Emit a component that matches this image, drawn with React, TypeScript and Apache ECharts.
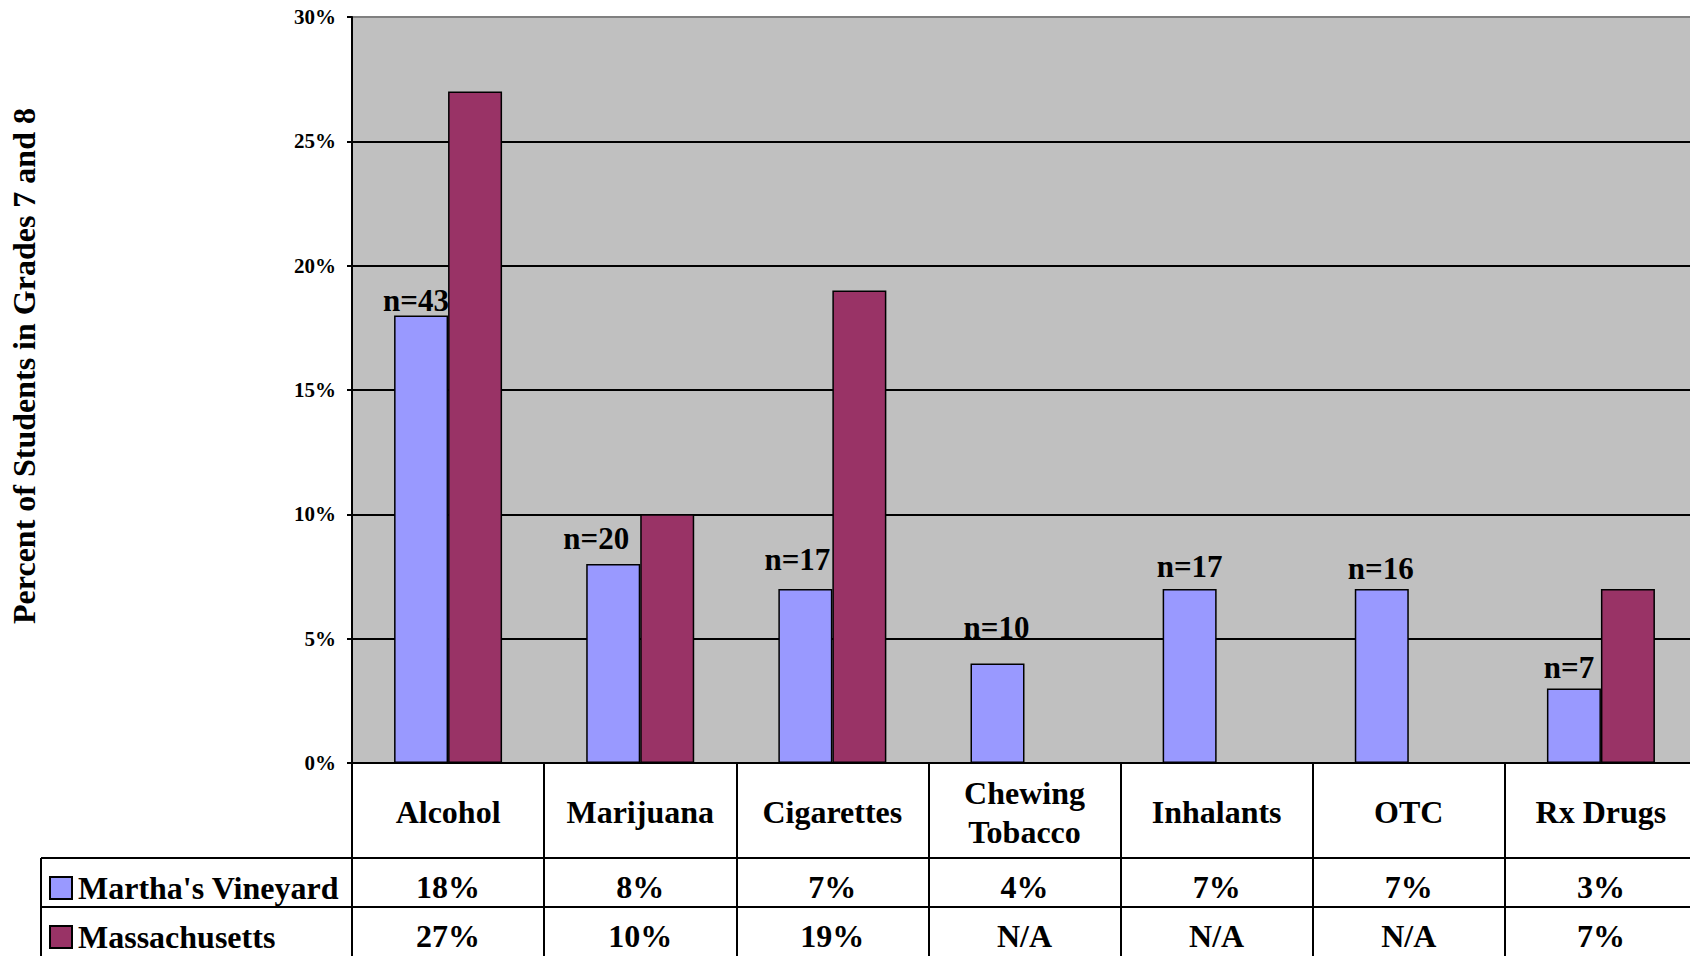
import React, { useEffect, useRef } from 'react';
import * as echarts from 'echarts';

// Substance categories (the x axis / data table header row)
const categories = ['Alcohol', 'Marijuana', 'Cigarettes', 'Chewing\nTobacco', 'Inhalants', 'OTC', 'Rx Drugs'];
// Percent of grade 7–8 students reporting use
const vineyardValues = [18, 8, 7, 4, 7, 7, 3];
const massachusettsValues: (number | null)[] = [27, 10, 19, null, null, null, 7];
// Number of Martha's Vineyard respondents behind each percentage
const sampleSizes = [43, 20, 17, 10, 17, 16, 7];
const seriesNames = ["Martha's Vineyard", 'Massachusetts'];
const yAxisTitle = 'Percent of Students in Grades 7 and 8';

// Hand-placed nudges for the "n=" labels [dx, dy]
const nLabelNudge: [number, number][] = [
  [-5, 1], [-17, -10], [-8, -14], [-1, -21], [0, -7], [-1, -5], [-5, -5],
];

const SERIF = '"Times New Roman", "Liberation Serif", serif';
const VINEYARD_COLOR = '#9999FF';
const MASS_COLOR = '#993366';

const fmtPct = (v: number | null) => (v == null ? 'N/A' : `${v}%`);

export default function App() {
  const ref = useRef<HTMLDivElement>(null);

  useEffect(() => {
    if (!ref.current) return;
    const chart = echarts.init(ref.current, null, { renderer: 'svg' });

    const tableText = {
      fontSize: 32,
      fontWeight: 'bold' as const,
      color: '#000',
      fontFamily: SERIF,
    };

    const legendBase = {
      left: 49,
      orient: 'vertical' as const,
      itemWidth: 22,
      itemHeight: 22,
      padding: 0,
      icon: 'rect',
      selectedMode: false,
      textStyle: { ...tableText, padding: [0, 0, 0, 1] },
    };

    chart.setOption({
      animation: false,
      backgroundColor: '#fff',
      grid: {
        left: 352,
        width: 1345,
        top: 17,
        bottom: 193,
        outerBoundsMode: 'none',
        show: true,
        backgroundColor: '#C0C0C0',
        borderColor: '#808080',
        borderWidth: 2,
      },
      legend: [
        { ...legendBase, data: [seriesNames[0]], top: 872 },
        { ...legendBase, data: [seriesNames[1]], top: 921 },
      ],
      xAxis: [
        {
          type: 'category',
          data: categories,
          position: 'bottom',
          axisLine: { show: true, lineStyle: { color: '#000', width: 2 } },
          axisTick: { show: true, interval: 0, length: 194, lineStyle: { color: '#000', width: 2 } },
          axisLabel: { ...tableText, interval: 0, margin: 49, verticalAlign: 'middle', lineHeight: 39 },
          splitLine: { show: false },
        },
        {
          type: 'category',
          data: categories,
          position: 'bottom',
          axisLine: { show: false },
          axisTick: { show: false },
          axisLabel: {
            ...tableText,
            interval: 0,
            margin: 124,
            verticalAlign: 'middle',
            formatter: (_v: string, i: number) => fmtPct(vineyardValues[i]),
          },
          splitLine: { show: false },
        },
        {
          type: 'category',
          data: categories,
          position: 'bottom',
          axisLine: { show: false },
          axisTick: { show: false },
          axisLabel: {
            ...tableText,
            interval: 0,
            margin: 173,
            verticalAlign: 'middle',
            formatter: (_v: string, i: number) => fmtPct(massachusettsValues[i]),
          },
          splitLine: { show: false },
        },
      ],
      yAxis: {
        type: 'value',
        min: 0,
        max: 30,
        interval: 5,
        axisLine: { show: true, lineStyle: { color: '#000', width: 2 } },
        axisTick: { show: true, length: 5, lineStyle: { color: '#000', width: 2 } },
        axisLabel: {
          formatter: '{value}%',
          margin: 16,
          fontSize: 21,
          fontWeight: 'bold',
          color: '#000',
          fontFamily: SERIF,
        },
        splitLine: {
          show: true,
          lineStyle: {
            color: ['#000', '#000', '#000', '#000', '#000', '#000', '#808080'],
            width: 2,
          },
        },
      },
      series: [
        {
          name: seriesNames[0],
          type: 'bar',
          xAxisIndex: 0,
          barWidth: 54,
          barGap: '0%',
          itemStyle: { color: VINEYARD_COLOR, borderColor: '#000', borderWidth: 1.5 },
          label: {
            show: true,
            position: 'top',
            distance: 0,
            fontSize: 31,
            fontWeight: 'bold',
            color: '#000',
            fontFamily: SERIF,
            formatter: (p: any) => `n=${sampleSizes[p.dataIndex]}`,
          },
          data: vineyardValues.map((v, i) => ({ value: v, label: { offset: nLabelNudge[i] } })),
        },
        {
          name: seriesNames[1],
          type: 'bar',
          xAxisIndex: 0,
          barWidth: 54,
          barGap: '0%',
          itemStyle: { color: MASS_COLOR, borderColor: '#000', borderWidth: 1.5 },
          data: massachusettsValues,
        },
      ],
      graphic: [
        {
          type: 'text',
          x: 24,
          y: 366,
          rotation: Math.PI / 2,
          style: {
            text: yAxisTitle,
            fontSize: 32,
            fontWeight: 'bold',
            fontFamily: SERIF,
            fill: '#000',
            align: 'center',
            verticalAlign: 'middle',
          },
        },
        // data table borders left of and between the legend rows
        { type: 'line', shape: { x1: 41, y1: 858, x2: 1690, y2: 858 }, style: { stroke: '#000', lineWidth: 2 } },
        { type: 'line', shape: { x1: 41, y1: 907, x2: 1690, y2: 907 }, style: { stroke: '#000', lineWidth: 2 } },
        { type: 'line', shape: { x1: 41, y1: 858, x2: 41, y2: 960 }, style: { stroke: '#000', lineWidth: 2 } },
      ],
    });

    return () => chart.dispose();
  }, []);

  return (
    <div
      ref={ref}
      style={{ position: 'absolute', left: 0, top: 0, width: 1690, height: 956 }}
    />
  );
}
